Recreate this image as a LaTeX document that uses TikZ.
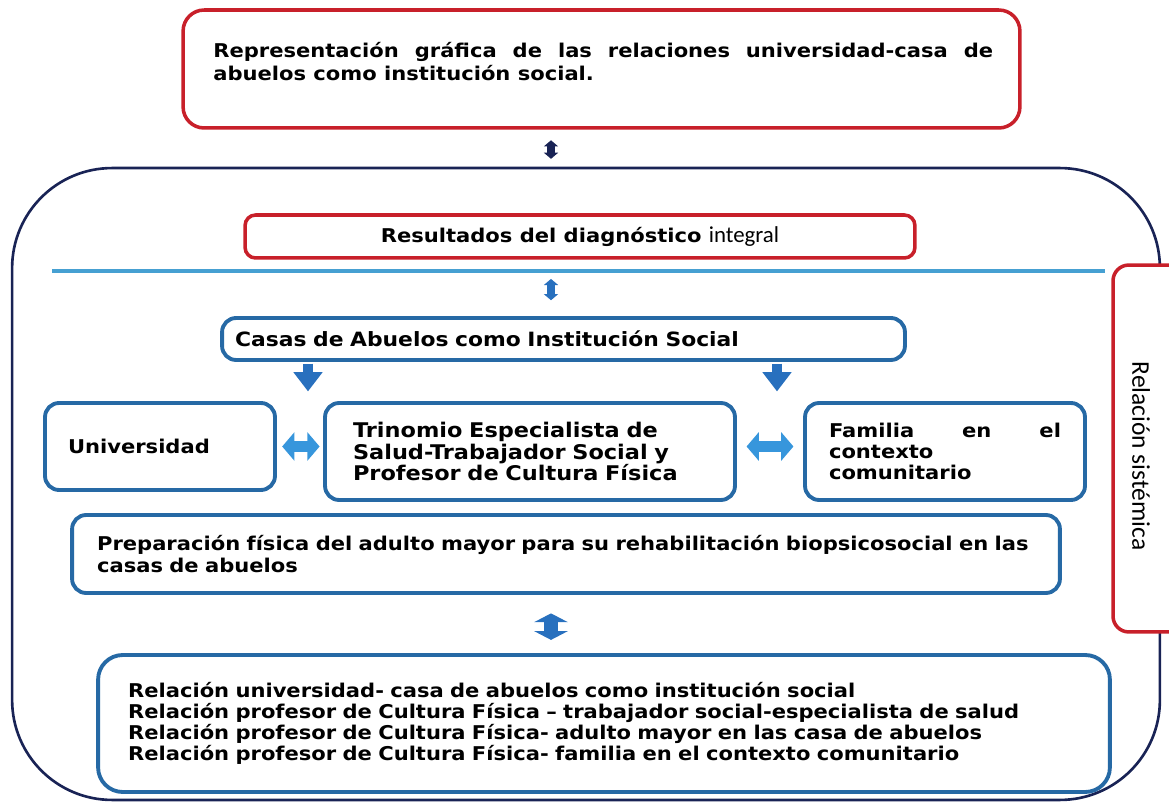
\documentclass[tikz,border=0pt]{standalone}
\usepackage{fontspec}
\setmainfont{DejaVu Sans}[FakeStretch=1.11]
\newfontfamily\calfont{Carlito}
\usetikzlibrary{arrows.meta,positioning}

\definecolor{redline}{RGB}{200,32,42}
\definecolor{navy}{RGB}{25,35,85}
\definecolor{boxblue}{RGB}{38,105,165}
\definecolor{sepblue}{RGB}{70,160,210}
\definecolor{arrblue}{RGB}{40,112,190}
\definecolor{hblue}{RGB}{55,150,220}

\begin{document}
\begin{tikzpicture}[x=0.02cm,y=-0.02cm,
    box/.style={draw=boxblue,line width=2.2pt,rounded corners=8pt,inner ysep=0pt,fill=white},
    redbox/.style={draw=redline,line width=2pt,rounded corners=10pt,inner sep=0pt,fill=white},
    txt/.style={font=\fontsize{10.8}{12}\selectfont\bfseries,align=left},
    small arrow/.style={line width=4pt,{Triangle[width=8pt,length=3.5pt]}-{Triangle[width=8pt,length=3.5pt]}},
    down arrow/.style={arrblue,line width=5.7pt,-{Triangle[width=16pt,length=11pt]}},
    side arrow/.style={hblue,line width=6.8pt,{Triangle[width=16pt,length=7pt]}-{Triangle[width=16pt,length=7pt]}},
    big arrow/.style={arrblue,line width=8.5pt,{Triangle[width=19pt,length=5pt]}-{Triangle[width=19pt,length=5pt]}}
  ]
  \useasboundingbox (0,0) rectangle (1169,810);
  % columns of the arrows
  \coordinate (ax) at (551,0);
  \coordinate (dl) at (308,0);
  \coordinate (dr) at (777,0);

  % title
  \node[redbox,rounded corners=12pt,minimum width=16.74cm,minimum height=2.36cm] (title) at (601.5,69) {};
  \node[txt,font=\fontsize{10.8}{13}\selectfont\bfseries,align=justify,text width=15.6cm,
        anchor=north west,inner sep=0pt] (titletext) at (213,42)
    {Representación gráfica de las relaciones universidad-casa de\linebreak abuelos como institución social.};

  % outer frame
  \node[draw=navy,line width=1.5pt,rounded corners=2cm,minimum width=22.96cm,minimum height=12.64cm] (frame) at (586,484) {};

  \node[redbox,rounded corners=6pt,minimum width=13.4cm,minimum height=0.86cm] (diag) at (580,236.5)
    {\fontsize{10.8}{12}\selectfont\bfseries Resultados del diagnóstico {\calfont\mdseries\fontsize{13}{13}\selectfont integral}};
  \coordinate (sepL) at (52,271);
  \coordinate (sepR) at (1105,271);
  \draw[sepblue,line width=1.8pt] (sepL) -- (sepR);

  \node[box,txt,font=\fontsize{11.2}{12}\selectfont\bfseries,inner xsep=0.26cm,text width=13.14cm,
        minimum width=13.66cm,minimum height=0.84cm] (casas) at (563.5,339)
    {Casas de Abuelos como Institución Social};
  \node[box,txt,inner xsep=0.46cm,text width=3.68cm,minimum width=4.6cm,minimum height=1.74cm] (univ) at (160,446.5)
    {Universidad};
  \node[box,txt,font=\fontsize{11.5}{12}\selectfont\bfseries,inner xsep=0.56cm,text width=7.08cm,
        minimum width=8.2cm,minimum height=1.94cm] (trin) at (530,451.5)
    {Trinomio Especialista de\\Salud-Trabajador Social y\\Profesor de Cultura Física};
  \node[box,txt,align=justify,inner xsep=0.48cm,text width=4.64cm,minimum width=5.6cm,minimum height=1.94cm] (fam) at (945,451.5)
    {Familia en el\linebreak contexto\\comunitario};
  \node[box,txt,font=\fontsize{10.8}{12.8}\selectfont\bfseries,inner xsep=0.5cm,text width=18.76cm,
        minimum width=19.76cm,minimum height=1.56cm] (prep) at (566,554)
    {Preparación física del adulto mayor para su rehabilitación biopsicosocial en las\\casas de abuelos};
  \node[box,rounded corners=14pt,txt,inner xsep=0.6cm,text width=19.04cm,minimum width=20.24cm,minimum height=2.74cm] (rel) at (604,723.5)
    {Relación universidad- casa de abuelos como institución social\\
     Relación profesor de Cultura Física – trabajador social-especialista de salud\\
     Relación profesor de Cultura Física- adulto mayor en las casa de abuelos\\
     Relación profesor de Cultura Física- familia en el contexto comunitario};

  % side label
  \node[redbox,rounded corners=9pt,minimum width=1.54cm,minimum height=7.34cm] (sist) at (1151.5,448.5) {};
  \node[rotate=-90,font=\calfont\fontsize{14.5}{15}\selectfont] (sisttext) at (1141,456) {Relación sistémica};

  % arrows
  \draw[small arrow,navy,shorten <=6pt,shorten >=4.5pt] (title.south -| ax) -- (frame.north -| ax);
  \draw[small arrow,arrblue,shorten <=4.5pt,shorten >=9pt] (sepL -| ax) -- (casas.north -| ax);
  \draw[down arrow,shorten <=1pt,shorten >=5.5pt] (casas.south -| dl) -- (univ.north -| dl);
  \draw[down arrow,shorten <=1pt,shorten >=5.5pt] (casas.south -| dr) -- (fam.north -| dr);
  \draw[side arrow,shorten <=3pt,shorten >=2pt] (univ.east) -- (univ.east -| trin.west);
  \draw[side arrow,shorten <=5.5pt,shorten >=5.5pt] (univ.east -| trin.east) -- (univ.east -| fam.west);
  \draw[big arrow,shorten <=10.5pt,shorten >=7.5pt] (prep.south -| ax) -- (rel.north -| ax);
\end{tikzpicture}
\end{document}
